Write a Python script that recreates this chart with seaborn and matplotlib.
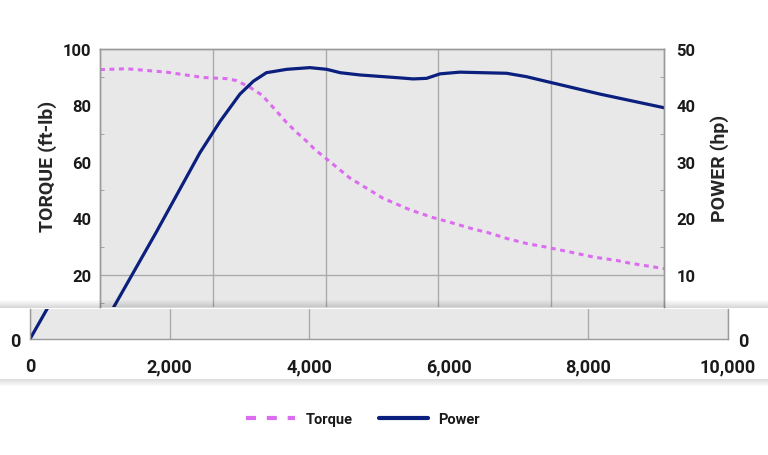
import matplotlib
matplotlib.use("Agg")
import matplotlib.pyplot as plt
import seaborn as sns
from matplotlib.patches import Rectangle
from matplotlib.lines import Line2D
from matplotlib.ticker import FuncFormatter

# data
torque_rpm = [0, 470, 1180, 1830, 2250, 2420, 2660, 2870, 3070, 3310, 3490, 3660,
              3810, 4020, 4430, 5020, 5500, 5900, 6210, 6620, 6890, 7210, 7560,
              7890, 8330, 8750, 9160, 9400, 10000]
torque = [92.7, 93.0, 91.8, 89.9, 89.5, 88.8, 86.4, 83.7, 79.3, 73.9, 70.4, 67.4,
          64.4, 61.0, 54.3, 47.1, 43.0, 40.3, 38.6, 36.2, 34.9, 32.9, 31.1,
          29.9, 28.1, 26.3, 25.1, 24.1, 22.2]
power_rpm = [0, 1000, 1770, 2130, 2480, 2720, 2950, 3310, 3720, 4020, 4260, 4610,
             5300, 5550, 5790, 6030, 6380, 7210, 7560, 7980, 8870, 10000]
power = [0, 17.6, 31.6, 37.2, 42.0, 44.3, 45.8, 46.4, 46.7, 46.4, 45.8, 45.4,
         44.9, 44.7, 44.8, 45.6, 45.9, 45.7, 45.1, 44.1, 42.0, 39.6]
x_ticks = [0, 2000, 4000, 6000, 8000, 10000]
torque_ticks = [20, 40, 60, 80, 100]
power_ticks = [10, 20, 30, 40, 50]

sns.set_style("white")
plt.rcParams['font.family'] = ['Roboto', 'DejaVu Sans']
plt.rcParams['font.weight'] = 'bold'
plt.rcParams['text.color'] = '#1a1a1a'
plt.rcParams['xtick.color'] = '#1a1a1a'
plt.rcParams['ytick.color'] = '#1a1a1a'

torque_col = '#dc6cf0'
power_col = '#0b1f7e'
panel = '#e8e8e8'
grid = '#ababab'
spine = '#9a9a9a'

W, H = 768, 456
def box(x0, y0, x1, y1):
    return [x0 / W, 1 - y1 / H, (x1 - x0) / W, (y1 - y0) / H]

fig = plt.figure(figsize=(7.68, 4.56), dpi=100)

# upper (broken) panel
ax = fig.add_axes(box(100, 50, 664, 308))
axp = ax.twinx()
ax.set_facecolor(panel)

sns.lineplot(x=torque_rpm, y=torque, ax=ax, color=torque_col, lw=2.2)
ax.lines[-1].set_dashes((1.6, 1.5))
sns.lineplot(x=power_rpm, y=power, ax=axp, color=power_col, lw=2.3)

ax.set_xlim(0, 10000)
ax.set_ylim(8.6, 100)
axp.set_ylim(4.3, 50)

ax.set_xticks(x_ticks[1:-1])
ax.tick_params(axis='x', length=0, labelbottom=False)
ax.grid(axis='x', color=grid, lw=1)
ax.axhline(20, color=grid, lw=1, zorder=0.5)
ax.set_axisbelow(True)

ax.set_yticks(torque_ticks)
ax.set_yticks([10, 30, 50, 70, 90], minor=True)
ax.tick_params(axis='y', which='major', length=0, pad=6, labelsize=12)
ax.tick_params(axis='y', which='minor', length=3, direction='in', color=spine)
axp.set_yticks(power_ticks)
axp.set_yticks([15, 25, 35, 45], minor=True)
axp.tick_params(axis='y', which='major', length=0, pad=9, labelsize=12)
axp.tick_params(axis='y', which='minor', length=3, direction='in', color=spine)

for a in (ax, axp):
    for s in a.spines.values():
        s.set_color(spine)
        s.set_linewidth(1)
    a.spines['bottom'].set_visible(False)

ax.set_ylabel('TORQUE (ft-lb)', fontsize=14, fontweight='bold')
ax.yaxis.set_label_coords(-0.076, 0.55)
axp.set_ylabel('POWER (hp)', fontsize=14, fontweight='bold', rotation=90)
axp.yaxis.set_label_coords(1.082, 0.543)

# lower strip with the zero line
axb = fig.add_axes(box(30, 310, 728, 340))
axb.set_zorder(3)
axb.set_facecolor(panel)
sns.lineplot(x=power_rpm, y=power, ax=axb, color=power_col, lw=2.3)
axb.set_xlim(0, 10000)
axb.set_ylim(0, 4.3)
axb.set_xticks(x_ticks)
axb.set_xticks([1000, 3000, 5000, 7000, 9000], minor=True)
axb.xaxis.set_major_formatter(FuncFormatter(lambda v, p: f"{v:,.0f}"))
axb.tick_params(axis='x', which='major', length=0, pad=13, labelsize=13)
axb.tick_params(axis='x', which='minor', length=3, direction='in', color=spine)
axb.grid(axis='x', color=grid, lw=1)
for gl, t in zip(axb.get_xgridlines(), x_ticks):
    if t == 6000:
        gl.set_visible(False)
axb.set_yticks([0])
axb.tick_params(axis='y', length=0, pad=7, labelsize=13, labelleft=True, labelright=True)
for s in axb.spines.values():
    s.set_color(spine)
    s.set_linewidth(1)
axb.spines['top'].set_visible(False)

# soft shadows around the strip
for i in range(8):
    y = 301 + i
    fig.add_artist(Rectangle((0, 1 - (y + 1) / H), 1, 1 / H, transform=fig.transFigure,
                             color='black', alpha=0.015 + 0.02 * i, lw=0, zorder=1))
for i in range(7):
    y = 380 + i
    fig.add_artist(Rectangle((0, 1 - (y + 1) / H), 1, 1 / H, transform=fig.transFigure,
                             color='black', alpha=0.13 - 0.018 * i, lw=0, zorder=1))

handles = [Line2D([], [], color=torque_col, lw=3, dashes=(2.4, 2.6)),
           Line2D([], [], color=power_col, lw=3)]
fig.legend(handles, ['Torque', 'Power'], loc='center', bbox_to_anchor=(363 / W, 1 - 420 / H),
           ncol=2, frameon=False, fontsize=10.5, handlelength=3.4, columnspacing=1.8,
           handletextpad=0.7)

fig.savefig('out.png', dpi=100, facecolor='white')
